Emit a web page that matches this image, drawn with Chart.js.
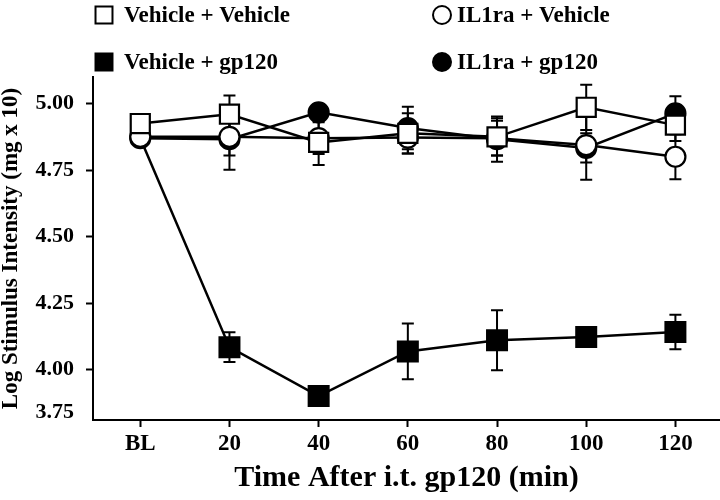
<!DOCTYPE html>
<html>
<head>
<meta charset="utf-8">
<script src="https://cdn.jsdelivr.net/npm/chart.js@4.4.1/dist/chart.umd.min.js"></script>
<style>
  html, body { margin: 0; padding: 0; background: #ffffff; overflow: hidden; }
  #wrap { width: 720px; height: 500px; position: relative; }
</style>
</head>
<body>
<div id="wrap"><canvas id="chart"></canvas></div>
<script>
// time points
const labels = ['BL', '20', '40', '60', '80', '100', '120'];

// group means (log stimulus intensity) and SEM
const vehVehMean = [4.925, 4.96, 4.854, 4.888, 4.875, 4.986, 4.919];
const vehVehSem  = [0, 0.07, 0.085, 0.076, 0.07, 0.085, 0.06];

const il1VehMean = [4.875, 4.875, 4.87, 4.872, 4.87, 4.844, 4.80];
const il1VehSem  = [0, 0.07, 0.06, 0.06, 0.065, 0.13, 0.085];

const il1GpMean = [4.87, 4.866, 4.967, 4.908, 4.866, 4.833, 4.963];
const il1GpSem  = [0, 0.115, 0.02, 0.08, 0.085, 0.055, 0.065];

const vehGpMean = [4.87, 4.084, 3.90, 4.068, 4.11, 4.122, 4.141];
const vehGpSem  = [0, 0.056, 0, 0.105, 0.113, 0, 0.065];

// y axis is cut below 4.00, bottom label reads 3.75
const yTickValues = [3.84, 4.00, 4.25, 4.50, 4.75, 5.00];
const yTickLabels = ['3.75', '4.00', '4.25', '4.50', '4.75', '5.00'];

const FONT = "'Liberation Serif', 'Times New Roman', serif";
const BLACK = '#000000';
const WHITE = '#FFFFFF';

// legend slots: [dataset label, column, row]
const legendSlots = [
  ['Vehicle + Vehicle', 0, 0],
  ['Vehicle + gp120', 0, 1],
  ['IL1ra + Vehicle', 1, 0],
  ['IL1ra + gp120', 1, 1],
];

function series(label, mean, sem, style, fill, radius) {
  return {
    label: label,
    data: mean.map((v, i) => ({ x: i, y: v })),
    sem: sem,
    borderColor: BLACK,
    borderWidth: 2.5,
    pointStyle: style,
    pointRadius: radius,
    pointBorderWidth: 2.2,
    pointBorderColor: BLACK,
    pointBackgroundColor: fill,
    tension: 0,
    fill: false,
  };
}

const data = {
  // first dataset is painted last (on top)
  datasets: [
    series('Vehicle + Vehicle', vehVehMean, vehVehSem, 'rect', WHITE, 13.5),
    series('IL1ra + Vehicle', il1VehMean, il1VehSem, 'circle', WHITE, 10),
    series('IL1ra + gp120', il1GpMean, il1GpSem, 'circle', BLACK, 10),
    series('Vehicle + gp120', vehGpMean, vehGpSem, 'rect', BLACK, [0, 14, 14, 14, 14, 14, 14]),
  ]
};

const errorBars = {
  id: 'errorBars',
  beforeDatasetsDraw(chart) {
    const ctx = chart.ctx;
    const yScale = chart.scales.y;
    ctx.save();
    ctx.strokeStyle = BLACK;
    ctx.lineWidth = 2;
    chart.data.datasets.forEach((ds, i) => {
      const meta = chart.getDatasetMeta(i);
      meta.data.forEach((pt, j) => {
        const sem = ds.sem[j];
        if (!sem) return;
        const v = ds.data[j].y;
        const top = yScale.getPixelForValue(v + sem);
        const bot = yScale.getPixelForValue(v - sem);
        ctx.beginPath();
        ctx.moveTo(pt.x, top);
        ctx.lineTo(pt.x, bot);
        ctx.moveTo(pt.x - 6, top);
        ctx.lineTo(pt.x + 6, top);
        ctx.moveTo(pt.x - 6, bot);
        ctx.lineTo(pt.x + 6, bot);
        ctx.stroke();
      });
    });
    ctx.restore();
  }
};

const gridLegend = {
  id: 'gridLegend',
  afterDraw(chart) {
    const ctx = chart.ctx;
    const colX = [104, 442];
    const rowY = [15, 62];
    ctx.save();
    ctx.font = 'bold 23px ' + FONT;
    ctx.textBaseline = 'middle';
    legendSlots.forEach(([label, col, row]) => {
      const ds = chart.data.datasets.find(d => d.label === label);
      const x = colX[col];
      const y = rowY[row];
      ctx.fillStyle = ds.pointBackgroundColor;
      ctx.strokeStyle = BLACK;
      ctx.lineWidth = 2;
      Chart.helpers.drawPoint(ctx, {
        pointStyle: ds.pointStyle,
        radius: ds.pointStyle === 'rect' ? 12 : 9,
        borderWidth: 2,
      }, x, y);
      ctx.fillStyle = BLACK;
      ctx.fillText(label, x + (col === 0 ? 20 : 15), y + 1);
    });
    ctx.restore();
  }
};

const ctx = document.getElementById('chart').getContext('2d');

const config = {
  type: 'line',
  data: data,
  options: {
    responsive: true,
    maintainAspectRatio: false,
    animation: false,
    devicePixelRatio: 1,
    layout: {
      autoPadding: false,
      padding: { top: 77, right: 0, left: 0, bottom: 0 }
    },
    plugins: {
      legend: { display: false },
      title: { display: false },
      tooltip: { enabled: false },
    },
    scales: {
      x: {
        type: 'linear',
        min: -0.53,
        max: 6.5,
        afterBuildTicks(scale) {
          scale.ticks = labels.map((l, i) => ({ value: i }));
        },
        afterFit(scale) {
          scale.height = 80;
          scale.paddingLeft = 0;
          scale.paddingRight = 0;
        },
        grid: {
          drawOnChartArea: false,
          drawTicks: true,
          tickLength: 7,
          tickWidth: 2,
          color: BLACK,
        },
        border: { display: true, color: BLACK, width: 2 },
        ticks: {
          color: BLACK,
          padding: 3,
          maxRotation: 0,
          font: { family: FONT, size: 23, weight: 'bold' },
          callback(value, index) {
            return labels[index];
          }
        },
        title: {
          display: true,
          text: 'Time After i.t. gp120 (min)',
          color: BLACK,
          padding: { top: 0, bottom: 4 },
          font: { family: FONT, size: 30, weight: 'bold' },
        },
      },
      y: {
        min: 3.81,
        max: 5.10,
        afterFit(scale) { scale.width = 93; },
        afterBuildTicks(scale) {
          scale.ticks = yTickValues.map(v => ({ value: v }));
        },
        grid: {
          drawOnChartArea: false,
          drawTicks: true,
          tickLength: 7,
          tickWidth: 2,
          color: (c) => (c.index === 0 ? 'rgba(0,0,0,0)' : BLACK),
        },
        border: { display: true, color: BLACK, width: 2 },
        ticks: {
          color: BLACK,
          padding: 12,
          font: { family: FONT, size: 22, weight: 'bold' },
          callback(value, index) {
            return yTickLabels[index];
          }
        },
        title: {
          display: true,
          text: 'Log Stimulus Intensity (mg x 10)',
          color: BLACK,
          padding: 0,
          font: { family: FONT, size: 23, weight: 'bold', lineHeight: 1 },
        },
      },
    },
  },
  plugins: [errorBars, gridLegend]
};

const chartInstance = new Chart(ctx, config);
</script>
</body>
</html>
